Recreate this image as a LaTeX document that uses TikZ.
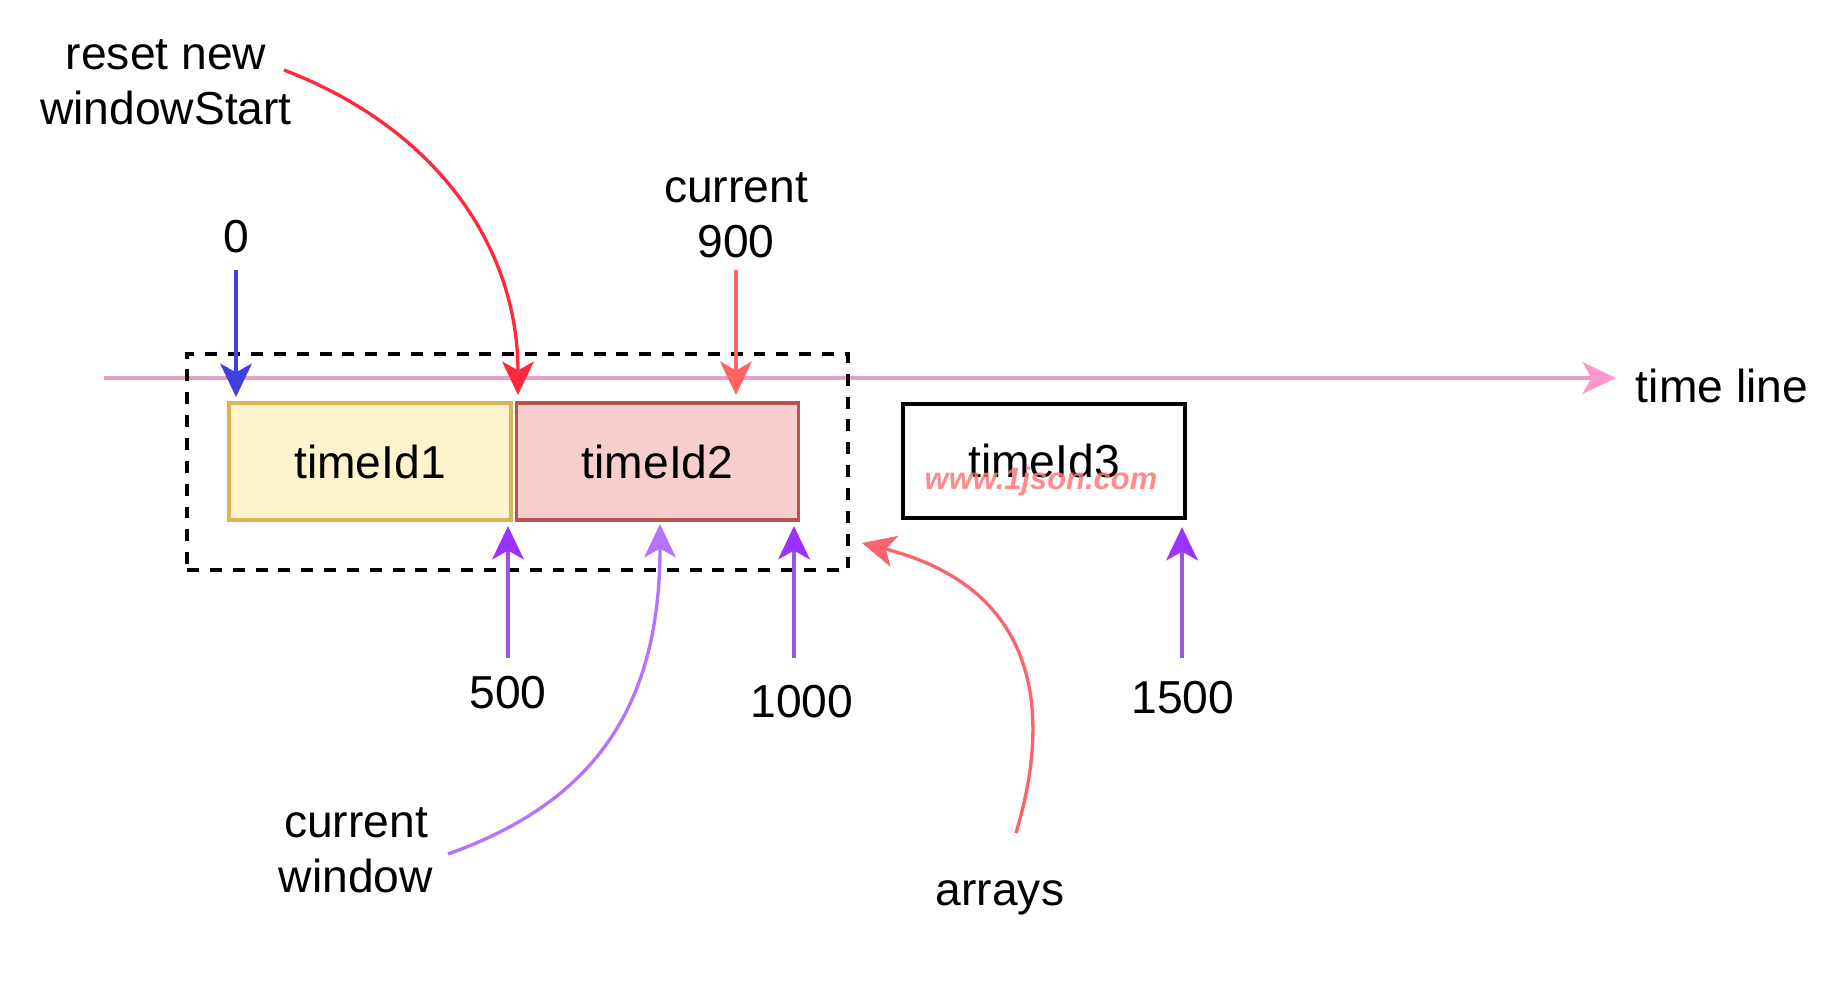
\documentclass[tikz,border=0pt]{standalone}
\usepackage{fontspec}
\setmainfont{Liberation Sans}
\usetikzlibrary{arrows.meta}
\definecolor{tlpink}{RGB}{228,160,200}
\definecolor{tlhead}{RGB}{255,150,205}
\definecolor{yfill}{RGB}{255,242,204}
\definecolor{ydraw}{RGB}{214,182,86}
\definecolor{rfill}{RGB}{248,206,204}
\definecolor{rdraw}{RGB}{184,84,80}
\definecolor{startblue}{RGB}{64,64,224}
\definecolor{resetred}{RGB}{255,40,60}
\definecolor{nowred}{RGB}{255,100,100}
\definecolor{edgepurple}{RGB}{155,85,215}
\definecolor{headpurple}{RGB}{155,50,255}
\definecolor{winpurple}{RGB}{180,115,255}
\definecolor{arrred}{RGB}{250,100,110}
\definecolor{wmred}{RGB}{255,120,120}

\begin{document}
\begin{tikzpicture}[x=0.02cm,y=-0.02cm,
  every node/.style={font=\fontsize{26.3}{31.2}\selectfont, inner sep=0pt, outer sep=0pt},
  slot/.style={draw, line width=2pt, minimum width=5.64cm, minimum height=2.34cm, text depth=-6pt},
  lbl/.style={anchor=base},
  tip/.style={-{Stealth[length=19pt,width=18pt,inset=5pt]}, line width=1.9pt},
  ptip/.style={-{Stealth[length=19pt,width=18pt,inset=5pt,color=headpurple]}, line width=1.9pt, edgepurple}]
\useasboundingbox (0,0) rectangle (1836,982);

% Time line
\coordinate (tl0) at (104,378);
\coordinate (tl1) at (1616,378);
\node[lbl] (tlab) at (1722,403) {time line};
\draw[line width=2.3pt, tlpink, -{Stealth[length=19pt,width=18pt,inset=5pt,color=tlhead]}] (tl0) -- (tl1);

% Window and slots
\node[draw, dash pattern=on 6.8pt off 6.2pt, line width=2.3pt, minimum width=13.22cm, minimum height=4.32cm] (win) at (517.5,462) {};
\node[slot, fill=yfill, draw=ydraw] (t1) at (370,461.5) {timeId1};
\node[slot, fill=rfill, draw=rdraw] (t2) at (657.5,461.5) {timeId2};
\node[slot, draw=black, line width=2.5pt, minimum height=2.28cm] (t3) at (1044,461) {timeId3};
\node[lbl, font=\fontsize{17.6}{20}\selectfont\bfseries\itshape, text=wmred, opacity=0.85] (wm) at (1041,490) {www.1json.com};

% Labels
\node[lbl] (l0) at (236,253) {0};
\node[align=center] (lreset) at (166,82.5) {reset new\\windowStart};
\node[align=center] (lnow) at (736,215.5) {current\\900};
\node[lbl] (l500) at (508,709) {500};
\node[lbl] (l1000) at (802,718) {1000};
\node[lbl] (l1500) at (1183,714) {1500};
\node[align=center] (lwin) at (356,850) {current\\window};
\node[lbl] (larr) at (1000,905) {arrays};

% Ends
\coordinate (s0) at (236,270);   \coordinate (e0) at (236,397);
\coordinate (sr) at (284,70);    \coordinate (er) at (518,395);
\coordinate (sn) at (736,270);   \coordinate (en) at (736,395);
\coordinate (s500) at (508,658); \coordinate (e500) at (508,526);
\coordinate (s1000) at (794,658); \coordinate (e1000) at (794,526);
\coordinate (s1500) at (1182,658); \coordinate (e1500) at (1182,527);
\coordinate (sw) at (448,854);   \coordinate (ew) at (660,524);
\coordinate (sa) at (1016,833);  \coordinate (ea) at (862,543);

%Arrows
\draw[tip, startblue] (s0) -- (e0);
\draw[tip, resetred] (sr) .. controls (440,130) and (518,250) .. (er);
\draw[tip, nowred] (sn) -- (en);
\draw[ptip] (s500) -- (e500);
\draw[ptip] (s1000) -- (e1000);
\draw[ptip] (s1500) -- (e1500);
\draw[tip, winpurple] (sw) .. controls (600,800) and (660,700) .. (ew);
\draw[tip, arrred] (sa) .. controls (1050,720) and (1045,590) .. (ea);
\end{tikzpicture}
\end{document}
